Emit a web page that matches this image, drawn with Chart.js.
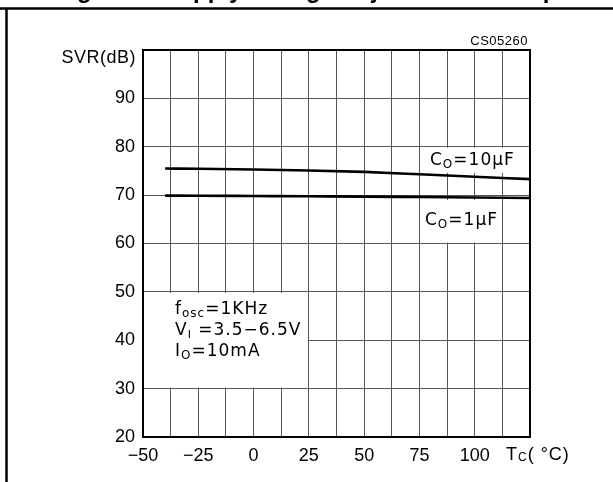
<!DOCTYPE html>
<html>
<head>
<meta charset="utf-8">
<script src="https://cdn.jsdelivr.net/npm/chart.js@4"></script>
<style>
  html, body { margin: 0; padding: 0; background: #fff; }
  #wrap { width: 613px; height: 482px; }
</style>
</head>
<body>
<div id="wrap"><canvas id="svr"></canvas></div>
<script>
// temperature points (°C) and SVR readings (dB)
const temps = [-40, -25, 0, 25, 50, 75, 100, 125];
const svr10uF = [75.5, 75.45, 75.3, 75.1, 74.8, 74.3, 73.8, 73.3];
const svr1uF = [69.9, 69.88, 69.82, 69.76, 69.7, 69.6, 69.5, 69.4];
const xTicks = [-50, -25, 0, 25, 50, 75, 100];

const FONT = '"Liberation Sans", Arial, sans-serif';
const NOTE = '"DejaVu Sans", sans-serif';

// draw a run of [text, size, dy] pieces starting at x
function runs(ctx, x, y, parts, spacing, fam) {
  ctx.textAlign = 'left';
  ctx.textBaseline = 'middle';
  ctx.letterSpacing = (spacing || 0) + 'px';
  parts.forEach(([t, size, dy]) => {
    ctx.font = `${size}px ${fam || FONT}`;
    ctx.fillText(t, x, y + (dy || 0));
    x += ctx.measureText(t).width;
  });
  ctx.letterSpacing = '0px';
}

const decor = {
  id: 'decor',
  beforeDatasetsDraw(chart) {
    const { ctx, scales: { x, y } } = chart;
    ctx.save();
    ctx.fillStyle = '#fff';
    // white boxes behind the notes
    ctx.fillRect(x.getPixelForValue(75) + 1, y.getPixelForValue(80) + 1,
      x.getPixelForValue(125) - x.getPixelForValue(75) - 1, y.getPixelForValue(74.6) - y.getPixelForValue(80) - 1);
    ctx.fillRect(x.getPixelForValue(75) + 1, y.getPixelForValue(69),
      x.getPixelForValue(112.5) - x.getPixelForValue(75) - 2, y.getPixelForValue(60) - y.getPixelForValue(69) - 1);
    ctx.fillRect(x.getPixelForValue(-50) + 1, y.getPixelForValue(50) + 1,
      x.getPixelForValue(25) - x.getPixelForValue(-50) - 2, y.getPixelForValue(30) - y.getPixelForValue(50) - 2);

    ctx.fillStyle = '#000';
    runs(ctx, 430, 161, [['C', 17], ['O', 12, 4], ['=10\u00b5F', 17]], 1, NOTE);
    runs(ctx, 425, 221, [['C', 17], ['O', 12, 4], ['=1\u00b5F', 17]], 1, NOTE);
    runs(ctx, 175, 310, [['f', 17], ['osc', 12, 4], ['=1KHz', 17]], 1, NOTE);
    runs(ctx, 175, 331, [['V', 17], ['I', 11, 4], [' =3.5\u22126.5V', 17]], 1, NOTE);
    runs(ctx, 175, 352, [['I', 17], ['O', 12, 4], ['=10mA', 17]], 1, NOTE);
    ctx.restore();
  },
  afterDraw(chart) {
    const { ctx, chartArea: a } = chart;
    ctx.save();
    ctx.strokeStyle = '#000';
    ctx.lineWidth = 2;
    ctx.strokeRect(a.left, a.top, a.right - a.left, a.bottom - a.top);

    // page frame and clipped caption above
    ctx.lineWidth = 2.5;
    ctx.beginPath();
    ctx.moveTo(0, 8.5); ctx.lineTo(613, 8.5);
    ctx.moveTo(6.5, 8.5); ctx.lineTo(6.5, 482);
    ctx.stroke();
    ctx.fillStyle = '#000';
    ctx.font = `bold 24px ${FONT}`;
    ctx.textBaseline = 'alphabetic';
    ctx.textAlign = 'left';
    const cap = 'Figure 6. Supply Voltage Rejection vs. Temperature';
    const x0 = 193 - ctx.measureText('Figure 6. Su').width;
    ctx.fillText(cap, x0, -2);

    ctx.font = `18px ${FONT}`;
    ctx.textAlign = 'right';
    ctx.textBaseline = 'middle';
    ctx.letterSpacing = '0.5px';
    ctx.fillText('SVR(dB)', 136, 58);
    ctx.font = `13px ${FONT}`;
    ctx.fillText('CS05260', 528, 41);
    ctx.letterSpacing = '0px';
    runs(ctx, 506, 455, [['T', 18], ['C', 12, 3], ['( \u00b0C)', 18]], 1);
    ctx.restore();
  }
};

const toPts = (vals) => temps.map((t, i) => ({ x: t, y: vals[i] }));

new Chart(document.getElementById('svr'), {
  type: 'line',
  data: {
    datasets: [
      { label: 'C0=10uF', data: toPts(svr10uF), borderColor: '#000', borderWidth: 2.6, pointRadius: 0, cubicInterpolationMode: 'monotone' },
      { label: 'C0=1uF', data: toPts(svr1uF), borderColor: '#000', borderWidth: 2.6, pointRadius: 0, cubicInterpolationMode: 'monotone' },
    ],
  },
  options: {
    responsive: true,
    maintainAspectRatio: false,
    animation: false,
    layout: { padding: { left: 0, top: 50, right: 83, bottom: 0 } },
    plugins: { legend: { display: false }, tooltip: { enabled: false } },
    scales: {
      x: {
        type: 'linear', min: -50, max: 125,
        afterFit: (s) => { s.height = 45; },
        grid: { color: '#555', lineWidth: 1, drawTicks: false },
        border: { display: false },
        ticks: {
          stepSize: 12.5, autoSkip: false, maxRotation: 0, padding: 8, color: '#000',
          font: { family: FONT, size: 18 },
          callback: (v) => xTicks.includes(v) ? String(v).replace('-', '\u2212') : '',
        },
      },
      y: {
        min: 20, max: 100,
        afterFit: (s) => { s.width = 143; },
        grid: { color: '#555', lineWidth: 1, drawTicks: false },
        border: { display: false },
        ticks: {
          stepSize: 10, padding: 8, color: '#000',
          font: { family: FONT, size: 18 },
          callback: (v) => v === 100 ? '' : v,
        },
      },
    },
  },
  plugins: [decor],
});
</script>
</body>
</html>
